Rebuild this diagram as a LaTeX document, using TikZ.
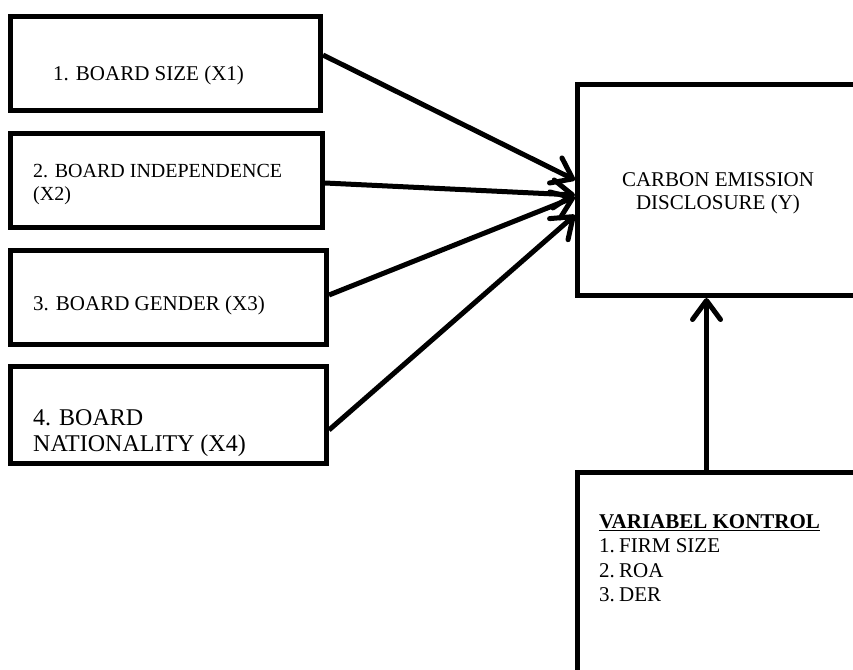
\documentclass[tikz,border=0pt]{standalone}
\usepackage{fontspec}
\setmainfont{Liberation Serif}
\usetikzlibrary{arrows.meta,calc}
\begin{document}
\begin{tikzpicture}[x=1pt,y=-1pt,
  box/.style={draw,line width=5pt,rectangle,inner sep=0pt},
  txt/.style={anchor=base west,inner sep=0pt,font=\fontsize{21}{24}\selectfont},
  bigtxt/.style={anchor=base west,inner sep=0pt,font=\fontsize{24}{27}\selectfont},
  midtxt/.style={anchor=base,inner sep=0pt,font=\fontsize{21}{24}\selectfont},
  link/.style={line width=5pt,-{Straight Barb[length=19pt,width=28pt,line cap=round,line join=round]}}]
\useasboundingbox (0,0) rectangle (853,669);
\clip (0,0) rectangle (853,669);
% boxes
\node[box,minimum width=310pt,minimum height=94pt] (b1) at (165.5,63.5) {};
\node[box,minimum width=312pt,minimum height=94pt] (b2) at (166.5,180.5) {};
\node[box,minimum width=316pt,minimum height=94pt] (b3) at (168.5,297.5) {};
\node[box,minimum width=316pt,minimum height=97pt] (b4) at (168.5,415) {};
\node[box,minimum width=400pt,minimum height=211pt] (y) at (777.5,190) {};
\node[box,minimum width=400pt,minimum height=300pt] (k) at (777.5,622.5) {};
% texts
\node[txt] (t1) at (53,80) {1. BOARD SIZE (X1)};
\node[txt,font=\fontsize{20}{24}\selectfont] (t2a) at (33,177) {2. BOARD INDEPENDENCE};
\node[txt,font=\fontsize{20}{24}\selectfont] (t2b) at (33,200) {(X2)};
\node[txt] (t3) at (33,310) {3. BOARD GENDER (X3)};
\node[bigtxt] (t4a) at (33,425) {4. BOARD};
\node[bigtxt] (t4b) at (33,451) {NATIONALITY (X4)};
\node[midtxt] (ty1) at (718,186) {CARBON EMISSION};
\node[midtxt] (ty2) at (718,209) {DISCLOSURE (Y)};
\node[txt] (tk0) at (599,528) {\underline{\textbf{VARIABEL KONTROL}}};
\node[txt] (tk1) at (599,552) {\makebox[20pt][l]{1.}FIRM SIZE};
\node[txt] (tk2) at (599,577) {\makebox[20pt][l]{2.}ROA};
\node[txt] (tk3) at (599,601) {\makebox[20pt][l]{3.}DER};
% connectors
\draw[link] ($(b1.east)+(0,-8.5)$) -- ($(y.west)+(0,-10)$);
\draw[link] ($(b2.east)+(0,2.5)$) -- ($(y.west)+(0,5)$);
\draw[link] ($(b3.east)+(0,-2.5)$) -- ($(y.west)+(0,7)$);
\draw[link] ($(b4.east)+(0,15)$) -- ($(y.west)+(0,25)$);
\draw[link] ($(k.north west)+(131.5,0)$) -- ($(y.south west)+(131.5,0)$);
\end{tikzpicture}
\end{document}
